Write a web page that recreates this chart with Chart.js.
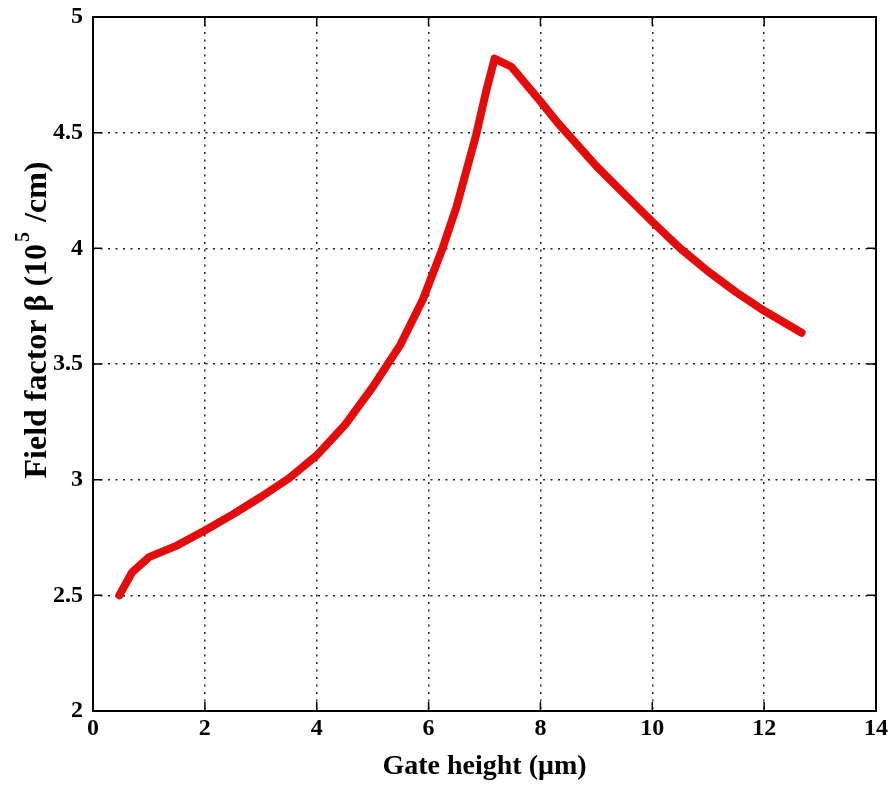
<!DOCTYPE html>
<html>
<head>
<meta charset="utf-8">
<title>Field factor vs gate height</title>
<script src="https://cdn.jsdelivr.net/npm/chart.js@4/dist/chart.umd.min.js"></script>
<style>
  html, body { margin: 0; padding: 0; background: #fff; }
  #wrap { width: 891px; height: 788px; }
</style>
</head>
<body>
<div id="wrap"><canvas id="chart" width="891" height="788"></canvas></div>
<script>
// values
const gateHeight = [0.47, 0.70, 1.00, 1.50, 2.00, 2.50, 3.00, 3.50, 4.00, 4.50, 5.00, 5.50, 5.90, 6.25, 6.50, 6.85, 7.03, 7.18, 7.48, 8.00, 8.30, 9.00, 9.50, 10.00, 10.50, 11.00, 11.50, 12.00, 12.67];
const fieldFactor = [2.50, 2.60, 2.665, 2.715, 2.78, 2.85, 2.925, 3.005, 3.105, 3.235, 3.40, 3.585, 3.78, 4.00, 4.18, 4.49, 4.68, 4.82, 4.785, 4.635, 4.545, 4.355, 4.235, 4.115, 4.00, 3.90, 3.81, 3.73, 3.635];

const xTicks = [0, 2, 4, 6, 8, 10, 12, 14];
const yTicks = [2, 2.5, 3, 3.5, 4, 4.5, 5];

const xTitle = "Gate height (\u03bcm)";
// y title is drawn in pieces because of the superscript
const yTitleTeile = ["Field factor \u03b2 (10", "5", " /cm)"];

const serif = "'Liberation Serif', 'Times New Roman', serif";

let punkte = [];
for (let i = 0; i < gateHeight.length; i++) {
  punkte.push({ x: gateHeight[i], y: fieldFactor[i] });
}

// frame + inward ticks like the old matlab plots
const rahmen = {
  id: "rahmen",
  afterDatasetsDraw(chart) {
    const ctx = chart.ctx;
    const a = chart.chartArea;
    const xs = chart.scales.x;
    const ys = chart.scales.y;
    const len = 9;
    ctx.save();
    ctx.strokeStyle = "#000";
    ctx.lineWidth = 1.5;
    ctx.beginPath();
    xTicks.forEach(function (v) {
      const px = xs.getPixelForValue(v);
      ctx.moveTo(px, a.bottom); ctx.lineTo(px, a.bottom - len);
      ctx.moveTo(px, a.top); ctx.lineTo(px, a.top + len);
    });
    yTicks.forEach(function (v) {
      const py = ys.getPixelForValue(v);
      ctx.moveTo(a.left, py); ctx.lineTo(a.left + len, py);
      ctx.moveTo(a.right, py); ctx.lineTo(a.right - len, py);
    });
    ctx.stroke();
    ctx.lineWidth = 2;
    ctx.strokeRect(a.left, a.top, a.right - a.left, a.bottom - a.top);
    ctx.restore();
  }
};

// rotated y title with raised 5
const yTitel = {
  id: "yTitel",
  afterDraw(chart) {
    const ctx = chart.ctx;
    const gross = "bold 32px " + serif;
    const klein = "bold 20px " + serif;
    ctx.save();
    ctx.font = gross;
    const w1 = ctx.measureText(yTitleTeile[0]).width;
    const w3 = ctx.measureText(yTitleTeile[2]).width;
    ctx.font = klein;
    const w2 = ctx.measureText(yTitleTeile[1]).width + 4;
    const gesamt = w1 + w2 + w3;
    ctx.translate(38, 320);
    ctx.rotate(-Math.PI / 2);
    ctx.fillStyle = "#000";
    ctx.textBaseline = "middle";
    ctx.textAlign = "left";
    let x = -gesamt / 2;
    ctx.font = gross;
    ctx.fillText(yTitleTeile[0], x, 0);
    x += w1 + 2;
    ctx.font = klein;
    ctx.fillText(yTitleTeile[1], x, -14);
    x += w2 - 2;
    ctx.font = gross;
    ctx.fillText(yTitleTeile[2], x, 0);
    ctx.restore();
  }
};

const chart = new Chart(document.getElementById("chart"), {
  type: "scatter",
  data: {
    datasets: [{
      data: punkte,
      showLine: true,
      borderColor: "rgb(228, 12, 10)",
      borderWidth: 8,
      pointRadius: 0,
      tension: 0,
      borderCapStyle: "round",
      borderJoinStyle: "round"
    }]
  },
  options: {
    responsive: false,
    animation: false,
    layout: { padding: { left: 0, right: 15, top: 17, bottom: 0 } },
    plugins: { legend: { display: false }, tooltip: { enabled: false } },
    scales: {
      x: {
        type: "linear",
        min: 0,
        max: 14,
        afterBuildTicks(scale) { scale.ticks = xTicks.map(v => ({ value: v })); },
        afterFit(scale) {
          scale.height = 77;
          scale.paddingLeft = 0;
          scale.paddingRight = 0;
        },
        ticks: {
          color: "#000",
          padding: 3,
          font: { family: serif, size: 24, weight: "bold" },
          callback: v => String(v)
        },
        grid: { color: "#222", lineWidth: 1.5, drawTicks: false },
        border: { display: false, dash: [2, 5.5] },
        title: {
          display: true,
          text: xTitle,
          color: "#000",
          padding: { top: 0, bottom: 4 },
          font: { family: serif, size: 28, weight: "bold" }
        }
      },
      y: {
        type: "linear",
        min: 2,
        max: 5,
        afterBuildTicks(scale) { scale.ticks = yTicks.map(v => ({ value: v })); },
        afterFit(scale) {
          scale.width = 93;
          scale.paddingTop = 0;
          scale.paddingBottom = 0;
        },
        ticks: {
          color: "#000",
          padding: 10,
          font: { family: serif, size: 24, weight: "bold" },
          callback: v => String(v)
        },
        grid: { color: "#222", lineWidth: 1.5, drawTicks: false },
        border: { display: false, dash: [2, 5.5] }
      }
    }
  },
  plugins: [rahmen, yTitel]
});
</script>
</body>
</html>
